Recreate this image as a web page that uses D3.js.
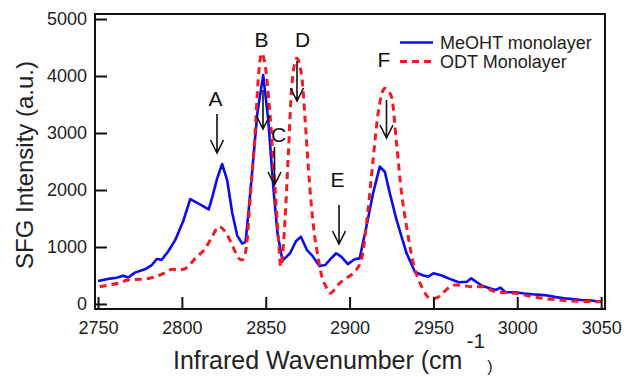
<!DOCTYPE html>
<html>
<head>
<meta charset="utf-8">
<script src="https://cdn.jsdelivr.net/npm/d3@7"></script>
<style>
  html, body { margin: 0; padding: 0; background: #fff; }
  svg { display: block; font-family: "Liberation Sans", Arial, sans-serif; }
</style>
</head>
<body>
<svg id="chart" width="635" height="377"></svg>
<script>
// ---- data ----
const xTicks = [2750, 2800, 2850, 2900, 2950, 3000, 3050];
const yTicks = [0, 1000, 2000, 3000, 4000, 5000];

const meohtWavenumber = [2750, 2756, 2761, 2765, 2768, 2772, 2778, 2782, 2785, 2788, 2792, 2796, 2801, 2805, 2810, 2816, 2818, 2821, 2824, 2827, 2830, 2833, 2836, 2838, 2840, 2842, 2845, 2848.5, 2851.5, 2854.5, 2857, 2860, 2864.5, 2868, 2871, 2874.5, 2878, 2882, 2885.5, 2889, 2892, 2895, 2899, 2903, 2906, 2910, 2914, 2918, 2921, 2924, 2928, 2934, 2939, 2944, 2947, 2950, 2955, 2959, 2965, 2970, 2972.5, 2979, 2984, 2987, 2990, 2993, 2999, 3004, 3009, 3014, 3018, 3023, 3028, 3033, 3038, 3044, 3050];
const meohtIntensity = [404, 440, 460, 497, 465, 550, 608, 680, 790, 775, 930, 1120, 1470, 1840, 1760, 1660, 1860, 2200, 2456, 2175, 1600, 1200, 1060, 1090, 1700, 2350, 3345, 4017, 3230, 2060, 1240, 760, 890, 1100, 1180, 950, 840, 667, 684, 800, 890, 830, 700, 784, 800, 1356, 1940, 2410, 2320, 1940, 1474, 890, 560, 500, 480, 540, 500, 450, 380, 390, 450, 320, 270, 245, 286, 205, 205, 185, 170, 160, 150, 120, 100, 85, 70, 60, 40];

const odtWavenumber = [2751, 2756, 2762, 2768, 2773, 2778, 2783, 2787, 2791, 2794, 2798, 2801, 2805, 2808, 2814, 2818, 2822, 2826.5, 2830, 2834, 2836, 2838.5, 2840.5, 2843.5, 2845.5, 2847.5, 2849.5, 2852.5, 2855.5, 2857.5, 2859, 2861.5, 2863.5, 2865.5, 2868.5, 2871.5, 2873.5, 2875.5, 2878.5, 2881.5, 2883, 2886, 2888.5, 2891, 2894, 2898, 2902, 2907, 2911, 2914, 2917, 2921, 2925, 2928, 2931, 2934, 2938, 2943, 2948, 2951, 2955, 2958, 2963, 2968, 2973, 2979, 2983, 2987, 2993, 2999, 3007, 3015, 3023, 3031, 3040, 3050];
const odtIntensity = [304, 330, 363, 421, 430, 438, 470, 509, 560, 608, 600, 608, 700, 800, 977, 1180, 1356, 1240, 1035, 800, 772, 1005, 1766, 2935, 3930, 4398, 4222, 3345, 2060, 1180, 655, 1474, 2640, 3810, 4310, 3990, 3230, 2350, 1356, 772, 538, 300, 187, 250, 363, 450, 538, 772, 1650, 2526, 3345, 3784, 3637, 2819, 1942, 1356, 714, 304, 100, 100, 170, 260, 333, 320, 304, 304, 260, 216, 200, 187, 140, 100, 75, 53, 45, 40];

const seriesNames = ["MeOHT monolayer", "ODT Monolayer"];
const peakLabels = ["A", "B", "C", "D", "E", "F"];

// ---- layout ----
const svg = d3.select("#chart");
const plotL = 95, plotR = 605, plotT = 14, plotB = 309;
const x = d3.scaleLinear().domain([2748.2, 3052.3]).range([plotL, plotR]);
const y = d3.scaleLinear().domain([-88, 5088]).range([plotB, plotT]);

const blue = "#0a0af0", red = "#f01c24";

// curves
const meoht = meohtWavenumber.map((w, i) => [w, meohtIntensity[i]]);
const odt = odtWavenumber.map((w, i) => [w, odtIntensity[i]]);

svg.append("path").datum(meoht)
  .attr("d", d3.line().x(d => x(d[0])).y(d => y(d[1])).curve(d3.curveLinear))
  .attr("fill", "none").attr("stroke", blue).attr("stroke-width", 2.6)
  .attr("stroke-linejoin", "round");

svg.append("path").datum(odt)
  .attr("d", d3.line().x(d => x(d[0])).y(d => y(d[1])).curve(d3.curveMonotoneX))
  .attr("fill", "none").attr("stroke", red).attr("stroke-width", 3)
  .attr("stroke-dasharray", "7,5");

// axes with inward ticks
const xAxis = svg.append("g").attr("transform", `translate(0,${plotB})`)
  .call(d3.axisBottom(x).tickValues(xTicks).tickSize(-12).tickPadding(12).tickFormat(d3.format("d")));
const yAxis = svg.append("g").attr("transform", `translate(${plotL},0)`)
  .call(d3.axisLeft(y).tickValues(yTicks).tickSize(-12).tickPadding(8).tickFormat(d3.format("d")));
[xAxis, yAxis].forEach(g => {
  g.select(".domain").remove();
  g.selectAll(".tick line").attr("stroke", "#111").attr("stroke-width", 2);
  g.selectAll(".tick text").attr("fill", "#222").style("font-size", "18px")
    .style("font-family", "'Liberation Sans', Arial, sans-serif");
});

// frame
svg.append("rect").attr("x", plotL).attr("y", plotT)
  .attr("width", plotR - plotL).attr("height", plotB - plotT)
  .attr("fill", "none").attr("stroke", "#111").attr("stroke-width", 2);

// axis titles
const xt = svg.append("text").attr("x", 173).attr("y", 369)
  .attr("fill", "#222").style("font-size", "25px").text("Infrared Wavenumber (cm");
xt.append("tspan").attr("dx", 4).attr("dy", -21).style("font-size", "21px").text("-1");
xt.append("tspan").attr("dx", 2).attr("dy", 24).style("font-size", "16px").text(")");

svg.append("text").attr("transform", "translate(33,165) rotate(-90)")
  .attr("text-anchor", "middle").attr("fill", "#222").style("font-size", "24px")
  .text("SFG Intensity (a.u.)");

// peak annotations: label center x, baseline, arrow x, arrow top, arrow bottom
const annX = [215.5, 261.5, 278.5, 302.5, 337.5, 384];
const annY = [106, 46.5, 142, 46.5, 186.5, 66.5];
const arrowX = [217, 263, 274.5, 297, 339, 386.5];
const arrowTop = [114, 90, 147, 61, 205, 100];
const arrowBottom = [153, 129, 185, 101, 244, 138];

const ann = svg.append("g");
peakLabels.forEach((lab, i) => {
  ann.append("text").attr("x", annX[i]).attr("y", annY[i]).attr("text-anchor", "middle")
    .attr("fill", "#111").style("font-size", "21px").text(lab);
  const ax = arrowX[i], y0 = arrowTop[i], y1 = arrowBottom[i];
  ann.append("path")
    .attr("d", `M${ax},${y0}L${ax},${y1}M${ax - 6.5},${y1 - 13}L${ax},${y1}L${ax + 6.5},${y1 - 13}`)
    .attr("fill", "none").attr("stroke", "#111").attr("stroke-width", 1.6);
});

// legend
const legend = svg.append("g");
const legColors = [blue, red];
const legDash = [null, "7,5"];
const legY = [42.5, 61.5];
seriesNames.forEach((name, i) => {
  legend.append("line").attr("x1", 400).attr("x2", 433).attr("y1", legY[i]).attr("y2", legY[i])
    .attr("stroke", legColors[i]).attr("stroke-width", i ? 3 : 2.6)
    .attr("stroke-dasharray", legDash[i]);
  legend.append("text").attr("x", 440).attr("y", legY[i] + 6.3)
    .attr("fill", "#222").style("font-size", "18px").text(name);
});
</script>
</body>
</html>
